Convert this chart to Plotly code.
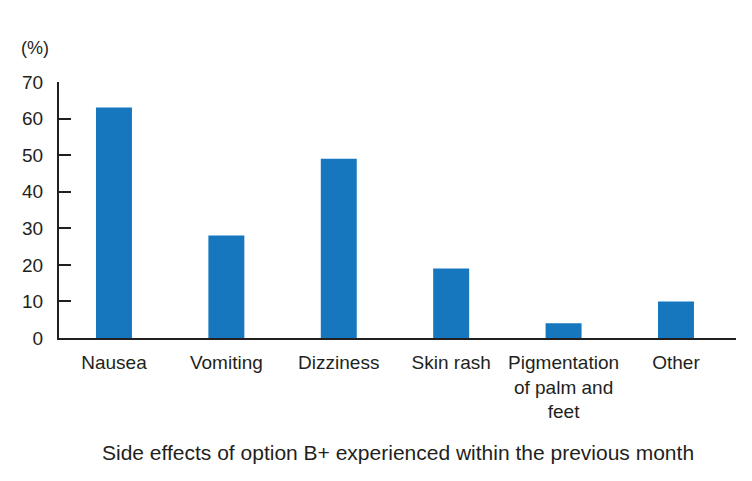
import plotly.graph_objects as go

categories = ["Nausea", "Vomiting", "Dizziness", "Skin rash",
              "Pigmentation<br>of palm and<br>feet", "Other"]
values = [63, 28, 49, 19, 4, 10]
y_ticks = [0, 10, 20, 30, 40, 50, 60, 70]

FONT = "Liberation Sans Narrow, Arial Narrow, Liberation Sans, Arial, sans-serif"

L, R, T, B = 51, 24, 74, 151
W, H = 752, 481
plot_w = W - L - R
plot_h = H - T - B

fig = go.Figure(go.Bar(
    x=list(range(len(categories))), y=values,
    marker=dict(color="#1677BF", line=dict(width=0)),
    width=0.32,
))

fig.update_layout(
    width=W, height=H,
    margin=dict(l=L, r=R, t=T, b=B),
    plot_bgcolor="white", paper_bgcolor="white",
    showlegend=False,
    font=dict(family=FONT, size=19, color="#231f20"),
    xaxis=dict(
        range=[-0.489, 5.534],
        tickmode="array", tickvals=list(range(len(categories))), ticktext=categories,
        showline=True, linecolor="#231f20", linewidth=2,
        ticks="", showgrid=False, zeroline=False,
        tickfont=dict(size=19),
        ticklabelstandoff=6,
    ),
    yaxis=dict(
        range=[0, 70], tickvals=y_ticks,
        showline=True, linecolor="#231f20", linewidth=2,
        ticks="inside", ticklen=12, tickwidth=1.5, tickcolor="#231f20",
        showgrid=False, zeroline=False,
        tickfont=dict(size=19),
        ticklabelstandoff=10,
    ),
    annotations=[
        dict(text="(%)", xref="paper", yref="paper",
             x=(35 - 8 - L) / plot_w, y=(H - B - (48 - 8)) / plot_h,
             xanchor="center", yanchor="middle",
             showarrow=False, font=dict(size=18)),
        dict(text="Side effects of option B+ experienced within the previous month",
             x=0.5, xref="paper", y=0.0, yref="paper", yanchor="middle",
             xanchor="center", yshift=-(452 - 338),
             showarrow=False, font=dict(size=21)),
    ],
)

fig.write_html("out.html")
